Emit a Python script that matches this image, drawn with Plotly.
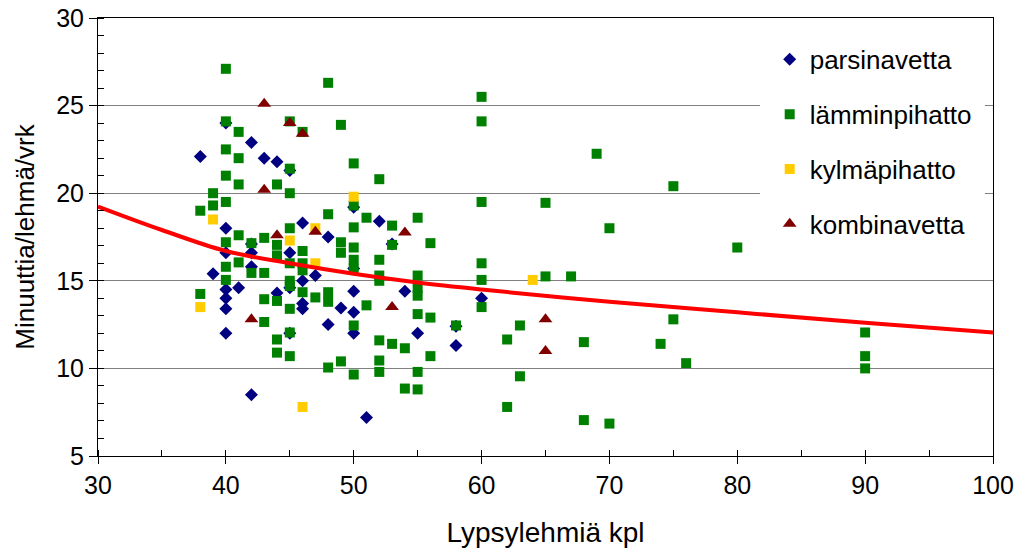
import plotly.graph_objects as go

# parsinavetta (blue diamonds)
parsi_x = [40, 42, 38, 43, 44, 45, 46, 40, 48, 42, 40, 42, 45, 42, 39, 47, 41, 40, 45, 44,
           46, 49, 40, 40, 46, 46, 48, 40, 45, 42, 50, 52, 50, 53, 50, 50, 54, 50, 55, 58,
           58, 51, 60]
parsi_y = [24.0, 22.9, 22.1, 22.0, 21.8, 21.3, 18.3, 18.0, 17.5, 17.1, 16.6, 16.6, 16.6, 15.8, 15.4, 15.3, 14.6, 14.5, 14.6, 14.3,
           15.0, 13.45, 14.0, 13.4, 13.7, 13.4, 12.5, 12.0, 12.0, 8.5, 19.2, 18.4, 15.7, 17.1, 14.4, 13.2, 14.4, 12.0, 12.0, 12.4,
           11.3, 7.2, 14.0]

# lämminpihatto (green squares)
lammin_x = [40, 48, 40, 45, 46, 49, 41, 40, 41, 45, 40, 41, 44, 45, 39, 39, 40, 38, 48,
            45, 41, 43, 49, 40, 42, 44, 44, 46, 49, 40, 41, 42, 43, 45, 46, 46, 40, 45, 45, 46,
            47, 48, 48, 38, 43, 44, 45, 43, 45, 44, 44, 45, 48, 49,
            60, 60, 50, 52, 50, 60, 51, 53, 55, 50, 50, 50, 50, 53, 56, 52, 52, 52, 55, 55, 55,
            51, 55, 56, 50, 58, 52, 53, 54, 56, 50, 52, 52, 55, 54, 55, 60, 60, 60,
            69, 65, 70, 65, 67, 63, 62, 68, 74, 63, 62, 68, 70, 75, 80, 75, 76, 90, 90, 90]
lammin_y = [27.1, 26.3, 24.1, 24.1, 23.5, 23.9, 23.5, 22.5, 22.0, 21.4, 21.0, 20.5, 20.5, 20.0, 20.0, 19.3, 19.5, 19.0, 18.8,
            18.0, 17.6, 17.45, 17.2, 17.2, 17.15, 17.05, 16.45, 16.7, 16.6, 15.8, 16.05, 15.45, 15.45, 16.0, 16.0, 15.6, 15.05, 15.0, 14.7, 14.35,
            14.05, 14.35, 13.8, 14.25, 13.95, 13.85, 13.4, 12.65, 12.05, 11.65, 10.9, 10.7, 10.05, 10.4,
            25.5, 24.1, 21.7, 20.8, 19.3, 19.5, 18.6, 18.15, 18.6, 18.05, 16.9, 16.2, 15.7, 17.05, 17.15, 16.2, 15.3, 15.0, 15.3, 14.6, 14.15,
            13.6, 13.1, 12.9, 12.45, 12.45, 11.6, 11.4, 11.15, 10.7, 9.65, 10.45, 9.8, 9.8, 8.85, 8.8, 16.0, 15.05, 13.5,
            22.25, 19.45, 18.0, 15.25, 15.25, 12.45, 11.65, 11.5, 11.4, 9.55, 7.8, 7.05, 6.85, 20.4, 16.9, 12.8, 10.3, 12.05, 10.7, 10.0]

# kylmäpihatto (yellow squares)
kylma_x = [39, 47, 45, 47, 38, 46, 50, 64]
kylma_y = [18.5, 18.0, 17.3, 16.0, 13.5, 7.8, 19.8, 15.05]

# kombinavetta (dark red triangles)
kombi_x = [43, 45, 46, 43, 47, 44, 42, 54, 53, 65, 65]
kombi_y = [25.1, 24.0, 23.4, 20.2, 17.8, 17.6, 12.8, 17.75, 13.5, 12.8, 11.0]

# trend line
trend_x = [30, 35, 40, 45, 50, 55, 60, 70, 80, 90, 100]
trend_y = [19.24, 17.9, 16.7, 16.0, 15.4, 14.9, 14.5, 13.8, 13.2, 12.6, 12.05]

FONT = "Liberation Sans, Arial, sans-serif"

fig = go.Figure()
fig.add_trace(go.Scatter(x=parsi_x, y=parsi_y, mode="markers", name="parsinavetta",
                         legendgroup="a",
                         marker=dict(symbol="diamond", size=10, color="#000080", line=dict(width=0))))
fig.add_trace(go.Scatter(x=lammin_x, y=lammin_y, mode="markers", name="lämminpihatto",
                         legendgroup="b",
                         marker=dict(symbol="square", size=10, color="#008000", line=dict(width=0))))
fig.add_trace(go.Scatter(x=kylma_x, y=kylma_y, mode="markers", name="kylmäpihatto",
                         legendgroup="c",
                         marker=dict(symbol="square", size=10, color="#FFCC00", line=dict(width=0))))
fig.add_trace(go.Scatter(x=kombi_x, y=kombi_y, mode="markers", name="kombinavetta",
                         legendgroup="d",
                         marker=dict(symbol="triangle-up", size=12, color="#800000", line=dict(width=0))))
fig.add_trace(go.Scatter(x=trend_x, y=trend_y, mode="lines", showlegend=False,
                         line=dict(color="#FF0000", width=4, shape="spline"), hoverinfo="skip"))

# white area behind the legend (hides the gridlines there, like the original)
fig.add_shape(type="rect", xref="paper", yref="paper", x0=0.7397, x1=0.991, y0=0.47, y1=0.997,
              fillcolor="white", line=dict(width=0), layer="above")

fig.update_layout(
    width=1020, height=554,
    margin=dict(l=98, r=27, t=18, b=98, autoexpand=False),
    paper_bgcolor="white", plot_bgcolor="white",
    font=dict(family=FONT, size=26, color="black"),
    showlegend=True,
    legend=dict(x=0.7505, y=0.959, xanchor="left", yanchor="top",
                bgcolor="rgba(255,255,255,0)", borderwidth=0, font=dict(size=26, family=FONT),
                tracegroupgap=18, itemwidth=30),
    xaxis=dict(range=[30, 100], tick0=30, dtick=10, ticks="outside", ticklen=7,
               tickcolor="black", tickwidth=1, showline=True, linecolor="black",
               linewidth=1, mirror=True, showgrid=False, zeroline=False, automargin=False,
               tickfont=dict(size=25, family=FONT),
               minor=dict(dtick=5, ticks="inside", ticklen=6, tickcolor="black", showgrid=False),
               title=dict(text="Lypsylehmiä kpl", font=dict(size=28, family=FONT), standoff=24)),
    yaxis=dict(range=[5, 30], tick0=5, dtick=5, ticks="outside", ticklen=8,
               tickcolor="black", tickwidth=1, showline=True, linecolor="black",
               linewidth=1, mirror=True, showgrid=True, gridcolor="#808080", gridwidth=1,
               zeroline=False, automargin=False, tickfont=dict(size=25, family=FONT),
               minor=dict(dtick=1, ticks="inside", ticklen=6, tickcolor="black", showgrid=False),
               title=dict(text="Minuuttia/lehmä/vrk", font=dict(size=26, family=FONT), standoff=14)),
    xaxis2=dict(overlaying="x", anchor="y", side="bottom", range=[30, 100], tick0=30, dtick=10,
                ticks="inside", ticklen=6, tickcolor="black", showticklabels=False, automargin=False,
                showline=False, showgrid=False, zeroline=False),
    yaxis2=dict(overlaying="y", anchor="x", side="left", range=[5, 30], tick0=5, dtick=5,
                ticks="inside", ticklen=6, tickcolor="black", showticklabels=False, automargin=False,
                showline=False, showgrid=False, zeroline=False),
)

fig.write_html("out.html")
